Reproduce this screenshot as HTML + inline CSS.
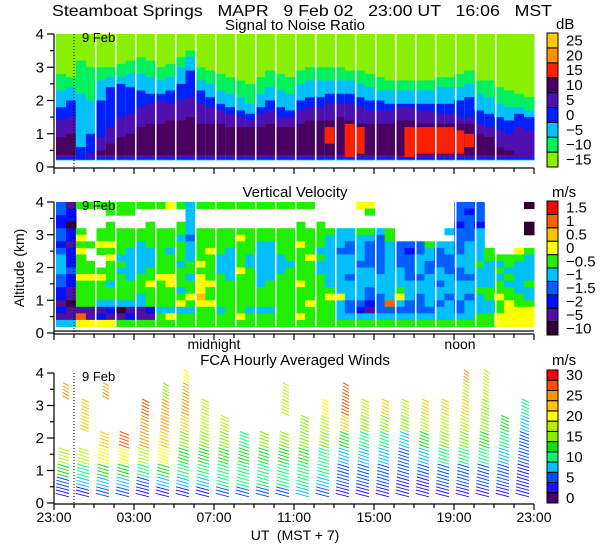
<!DOCTYPE html>
<html><head><meta charset="utf-8"><style>
html,body{margin:0;padding:0;background:#fff;}
svg{display:block;font-family:"Liberation Sans",sans-serif;}
</style></head><body>
<svg id="chart" width="600" height="560" viewBox="0 0 600 560" xmlns="http://www.w3.org/2000/svg">
<text x="52" y="16" font-size="16" textLength="500" lengthAdjust="spacingAndGlyphs" xml:space="preserve">Steamboat Springs   MAPR   9 Feb 02   23:00 UT   16:06   MST</text>
<text x="295" y="30" font-size="15" text-anchor="middle">Signal to Noise Ratio</text>
<text x="556" y="29" font-size="15">dB</text>
<text x="295" y="197" font-size="15" text-anchor="middle">Vertical Velocity</text>
<text x="552" y="197" font-size="15">m/s</text>
<text x="295" y="365" font-size="15" text-anchor="middle">FCA Hourly Averaged Winds</text>
<text x="552" y="365" font-size="15">m/s</text>
<text x="214" y="349" font-size="14" text-anchor="middle">midnight</text>
<text x="460" y="349" font-size="14" text-anchor="middle">noon</text>
<text x="295" y="540" font-size="14" text-anchor="middle" xml:space="preserve">UT  (MST + 7)</text>
<text x="0" y="0" font-size="14" text-anchor="middle" transform="translate(24,268) rotate(-90)">Altitude (km)</text>
<g id="layer"></g>
</svg>
<script>
// ---------- data ----------
const snrLevels = ["-15","-10","-5","0","5","10","15","20","25"];
const snrColors = ["#88f000","#00f060","#00c0ff","#0020ff","#5010b0","#4a0060","#ff2000","#ff9000","#ffc800"];
const snrGreenTop = [2.8,2.7,3.2,3.0,3.0,3.0,3.1,3.2,3.3,3.2,3.0,3.1,3.3,3.5,3.0,2.9,2.8,2.7,2.6,2.5,2.7,2.9,2.8,2.7,2.9,3.0,3.0,3.0,3.0,2.9,2.9,2.8,2.7,2.6,2.6,2.6,2.6,2.6,2.7,2.7,2.8,2.9,2.6,2.6,2.4,2.3,2.2,2.1];
const snrCyanTop  = [2.3,2.4,2.2,2.0,2.6,2.7,2.7,2.8,2.8,2.7,2.6,2.7,3.0,3.3,2.6,2.5,2.3,2.2,2.1,1.9,2.2,2.4,2.3,2.2,2.5,2.6,2.6,2.6,2.6,2.6,2.5,2.4,2.3,2.3,2.3,2.3,2.3,2.3,2.4,2.4,2.4,2.5,2.2,2.1,1.9,1.8,1.8,1.7];
const snrBlueTop  = [1.8,2.0,0.6,1.0,2.0,2.4,2.5,2.4,2.3,2.2,2.2,2.3,2.5,2.9,2.3,2.1,1.9,1.8,1.7,1.6,1.8,2.0,1.8,1.7,2.0,2.1,2.1,2.2,2.2,2.2,2.1,2.0,2.0,1.9,1.9,1.9,1.9,1.9,1.9,1.9,2.0,2.1,1.7,1.6,1.5,1.4,1.6,1.5];
const snrPurpleTop= [1.4,1.5,0.0,0.4,0.9,1.2,1.5,1.6,1.8,1.9,2.0,1.9,2.0,2.1,1.9,1.8,1.7,1.6,1.5,1.4,1.6,1.7,1.5,1.5,1.7,1.8,1.8,1.9,1.9,1.9,1.8,1.7,1.7,1.7,1.8,1.8,1.7,1.7,1.6,1.6,1.5,1.5,1.3,1.2,1.1,1.0,1.2,1.1];
const snrDarkTop  = [0.9,1.0,0.0,0.0,0.5,0.7,0.9,1.0,1.2,1.3,1.3,1.4,1.4,1.5,1.3,1.3,1.3,1.2,1.2,1.2,1.2,1.3,1.2,1.2,1.3,1.4,1.4,1.4,1.5,1.4,1.3,1.3,1.3,1.3,1.4,1.4,1.3,1.3,1.3,1.3,1.3,1.3,1.0,0.9,0.6,0.5,0.0,0.0];
const snrRedLo    = [0,0,0,0,0,0,0,0,0,0,0,0,0,0,0,0,0,0,0,0,0,0,0,0,0,0,0,0.7,0,0.3,0.4,0,0,0,0,0.3,0.4,0.4,0.4,0.4,0.4,0.6,0,0,0,0,0,0];
const snrRedHi    = [0,0,0,0,0,0,0,0,0,0,0,0,0,0,0,0,0,0,0,0,0,0,0,0,0,0,0,1.2,0,1.3,1.2,0,0,0,0,1.2,1.2,1.2,1.2,1.2,1.1,1.0,0,0,0,0,0,0];

const vvLevels = ["-10","-5","-2","-1.5","-1","-0.5","0","0.5","1","1.5"];
const vvColors = ["#300030","#5010a0","#0010ff","#0060ff","#00c0ff","#20f000","#ffff00","#ffc000","#ff6000","#ff0000"];
// each column: 19 cells top (3.8-4.0 km) to bottom (0.2-0.4 km); digit = vvLevels index, '.' = no data
const vvColumns = ["3322332344433221214","1220221222322110114","5...565655565555186","5.....5..5565555116","5...5565..565554126","55.5556565554554216","55..555545455554015","55..555444445554125","5...554444455544115","5..5555444556555215","5...555555565555455","6...555455566555465","5..5545554555456455","4444434445545565455","5...555556566676555","5...555655556556555","5...555544455555455","5...555444445555555","5...565555655555565","5...555544555555455","5...554444444555455","5...554444445555455","5...555544455555555","5...555554555555555","5..5556555556555565","5...555565555556555","...5555454455555555","....544444444565555","....444344444464445","....443344434443345","6...544443444443245","65..543333444332145","....433333344433345","....554444444448345","......3333444564345","......3233334443345","......3344434433345","......5443344444345","......4333443443445","....4.4433344434445","3332333344334443345","3233334444434434445","3332444445444544455",".......554444554455","........54545565566","........55454556666",".......654444455666","0..00..544445445666"];

const windLevels = ["0","5","10","15","20","25","30"];
const windColors = ["#4a0068","#2010ff","#0050ff","#00c0ff","#00ff70","#10e010","#80f000","#b8f000","#ffff00","#ffc800","#ff9800","#ff5000","#ff0000"];
const windHeights = [0.4,0.7,1.0,1.5,2.0,2.5,3.0,3.5,4.0];
const windSpeeds = [
 [3,6,12,17,null,null,null,24,null],
 [2,7,10,18,null,23,23,null,null],
 [5,8,12,20,22,null,null,26,null],
 [5,8,13,21,28,null,null,null,null],
 [2,6,10,17,24,25,28,null,null],
 [3,8,12,19,22,24,25,16,null],
 [3,8,10,13,16,22,25,25,20],
 [3,7,10,12,14,18,18,null,null],
 [5,10,11,12,14,18,null,null,null],
 [4,10,11,12,10,null,null,null,null],
 [5,9,11,12,15,null,null,null,null],
 [6,9,11,12,15,null,17,17,null],
 [7,9,10,12,14,16,null,null,null],
 [6,8,9,11,14,18,20,null,null],
 [2,5,6,8,12,22,28,27,null],
 [3,4,5,7,11,15,18,null,null],
 [3,4,5,7,11,16,22,null,null],
 [2,3,4,6,8,14,18,null,null],
 [2,3,4,7,13,18,22,null,null],
 [2,4,6,9,14,18,22,null,null],
 [3,4,6,11,14,18,23,18,24],
 [3,4,6,10,13,15,14,17,17],
 [2,4,5,8,11,12,null,null,null],
 [2,3,3,4,5,8,9,null,null]
];
const hourLabels = ["23:00","03:00","07:00","11:00","15:00","19:00","23:00"];

// ---------- drawing ----------
const NS="http://www.w3.org/2000/svg";
const layer=document.getElementById('layer');
const X0=54, HOURW=20, X1=534;
function xh(h){return X0+h*HOURW;}
function mk(tag,attrs,parent){const e=document.createElementNS(NS,tag);for(const k in attrs)e.setAttribute(k,attrs[k]);(parent||layer).appendChild(e);return e;}
const panels=[{y0:167,y4:34},{y0:333,y4:202},{y0:503,y4:373}];
function yk(p,km){const P=panels[p];return P.y0-(P.y0-P.y4)*km/4;}

// Panel 1 SNR
const g1=mk('g',{});


const CW=10;
for(let i=0;i<snrGreenTop.length;i++){
  const x=X0+2+i*CW*(478/480), w=CW;
  const layers=[[0.2,4.0,0],[0.2,snrGreenTop[i],1],[0.2,snrCyanTop[i],2],[0.22,snrBlueTop[i],3],[0.28,snrPurpleTop[i],4],[0.36,snrDarkTop[i],5],[snrRedLo[i],snrRedHi[i],6]];
  layers.forEach(L=>{
    if(L[1]>L[0]){
      const r=mk('rect',{x:x.toFixed(1),y:yk(0,L[1]).toFixed(1),width:w+0.5,height:(yk(0,L[0])-yk(0,L[1])).toFixed(1),fill:snrColors[L[2]]},g1);
      
      
    }
  });
}
// Panel 2 VV
const g2=mk('g',{});


for(let i=0;i<vvColumns.length;i++){
  const col=vvColumns[i];
  const x=X0+2+i*CW*(478/480);
  for(let r=0;r<19;r++){
    const ch=col[r];
    if(ch===undefined||ch==='.')continue;
    const top=4.0-0.2*r, bot=top-0.2;
    const c=mk('rect',{x:x.toFixed(1),y:yk(1,top).toFixed(1),width:CW+0.5,height:(yk(1,bot)-yk(1,top)+0.5).toFixed(1),fill:vvColors[+ch]},g2);
    
    
  }
}
// white gaps
for(let k=2;k<=22;k++){
  for(let p=0;p<2;p++){
    const l=mk('rect',{x:xh(k)+1,y:yk(p,4),width:1.5,height:yk(p,0.2)-yk(p,4),fill:'#fff'});
    
    
  }
}
// Panel 3 winds
function windIdx(s){return Math.max(0,Math.min(12,Math.round(s/2.5)));}
for(let h=0;h<windSpeeds.length;h++){
  const g=mk('g',{});
  
  
  const sp=windSpeeds[h];
  const x0=xh(h)+1;
  for(let z=0.3;z<=4.15;z+=0.1){
    let best=-1,bd=1e9;
    for(let j=0;j<windHeights.length;j++){const d=Math.abs(windHeights[j]-z);if(d<bd){bd=d;best=j;}}
    if(bd>0.3||sp[best]===null)continue;
    const s=sp[best];
    const y=yk(2,z);
    const xs=x0+2.2*z;
    const ln=mk('line',{x1:xs.toFixed(1),y1:y.toFixed(1),x2:(x0+14).toFixed(1),y2:(y+3.5).toFixed(1),stroke:windColors[windIdx(s)],'stroke-width':1},g);
    
    
  }
}
// axes
for(let p=0;p<3;p++){
  const P=panels[p];
  const ax=mk('g',{stroke:'#000','stroke-width':1.2,fill:'none'});
  
  
  mk('line',{x1:X0,y1:P.y4,x2:X0,y2:P.y0+1},ax);
  mk('line',{x1:X0,y1:P.y0+1,x2:X1,y2:P.y0+1},ax);
  if(p===1)mk('line',{x1:X0,y1:P.y0-2,x2:X1,y2:P.y0-2},ax);
  for(let t=0;t<=8;t++){
    const y=yk(p,t/2);
    mk('line',{x1:X0-(t%2===0?7:4),y1:y,x2:X0,y2:y},ax);
    if(t%2===0){
      const tx=mk('text',{x:X0-10,y:y+5,'font-size':15,'text-anchor':'end',fill:'#000',stroke:'none'});
      tx.textContent=String(t/2);
      
      
    }
  }
  for(let h=0;h<=24;h++){
    mk('line',{x1:xh(h),y1:P.y0+1,x2:xh(h),y2:P.y0+(h%4===0?7:5)},ax);
  }
  const dl=mk('line',{x1:74,y1:P.y4,x2:74,y2:P.y0+2,stroke:'#000','stroke-dasharray':'1,2','stroke-width':1});
  
  
  const fb=mk('text',{x:82,y:P.y4+8,'font-size':13});
  fb.textContent='9 Feb';
  
  
}
hourLabels.forEach((t,i)=>{
  const tx=mk('text',{x:xh(i*4),y:522,'font-size':14,'text-anchor':'middle'});
  tx.textContent=t;
  
  
});
// colorbars
function colorbar(name,colors,labels,top,bot,labelEvery){
  const g=mk('g',{});
  
  
  const n=colors.length, h=(bot-top)/n;
  for(let i=0;i<n;i++){
    const y=bot-(i+1)*h;
    const r=mk('rect',{x:547,y:y.toFixed(1),width:11,height:h.toFixed(1),fill:colors[i],stroke:'#000','stroke-width':1},g);
    
    
  }
  labels.forEach((l,j)=>{
    const i=j*labelEvery;
    const y=bot-(i+0.5)*h;
    const t=mk('text',{x:566,y:(y+5).toFixed(1),'font-size':15},g);
    t.textContent=l.replace('-','\u2212');
    
    
  });
}
colorbar('snr-colorbar',snrColors,snrLevels,33,167,1);
colorbar('vv-colorbar',vvColors,vvLevels,201,335,1);
colorbar('wind-colorbar',windColors,windLevels,370,503,2);
</script>
</body></html>
